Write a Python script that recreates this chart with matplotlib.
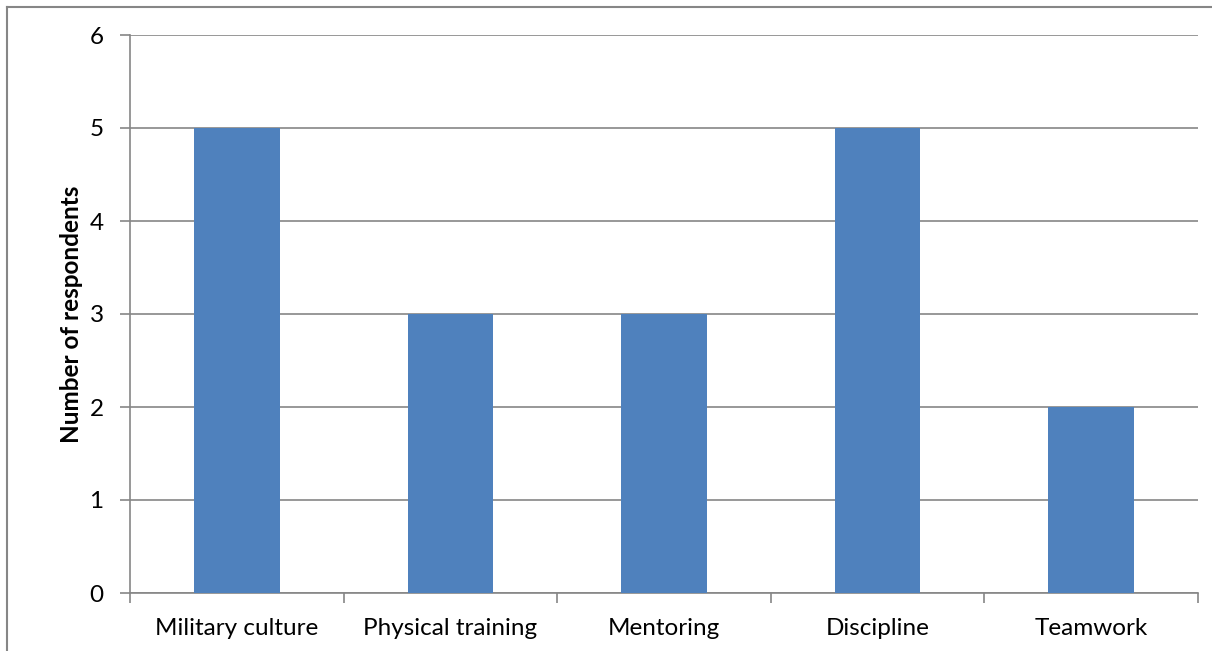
import matplotlib
matplotlib.use('Agg')
import matplotlib.pyplot as plt
from matplotlib.lines import Line2D

categories = ["Military culture", "Physical training", "Mentoring", "Discipline", "Teamwork"]
respondents = [5, 3, 3, 5, 2]

plt.rcParams['font.family'] = ['Lato', 'DejaVu Sans']

fig = plt.figure(figsize=(12.12, 6.51), dpi=100)
ax = fig.add_axes([130 / 1212, 1 - 593 / 651, (1198 - 130) / 1212, (593 - 35) / 651])

x = list(range(len(categories)))
ax.bar(x, respondents, width=0.4, color="#4F81BD", zorder=3)

ax.set_xlim(-0.5, len(categories) - 0.5)
ax.set_ylim(0, 6)
ax.set_yticks(range(0, 7))
ax.yaxis.grid(True, color="#868686", linewidth=1.2, zorder=0)

ax.set_xticks([i + 0.5 for i in range(-1, len(categories))], minor=False)
ax.set_xticklabels([])
ax.set_xticks(x, minor=True)
ax.set_xticklabels(categories, minor=True, fontsize=17.5)
ax.tick_params(axis='x', which='minor', length=0, pad=18)
ax.tick_params(axis='x', which='major', length=7, color="#868686", width=1.2)
ax.tick_params(axis='y', length=7, color="#868686", width=1.2, labelsize=17.5, pad=12)

for side in ["top", "right"]:
    ax.spines[side].set_visible(False)
for side in ["left", "bottom"]:
    ax.spines[side].set_color("#868686")
    ax.spines[side].set_linewidth(1.2)

ax.set_ylabel("Number of respondents", fontsize=17.5, fontweight="bold", labelpad=5)

# outer chart border
fig.add_artist(Line2D([7 / 1212, 7 / 1212], [0, 1 - 7 / 651], transform=fig.transFigure, color="#868686", linewidth=1.5))
fig.add_artist(Line2D([7 / 1212, 1], [1 - 7 / 651, 1 - 7 / 651], transform=fig.transFigure, color="#868686", linewidth=1.5))

fig.savefig("out.png", dpi=100)
